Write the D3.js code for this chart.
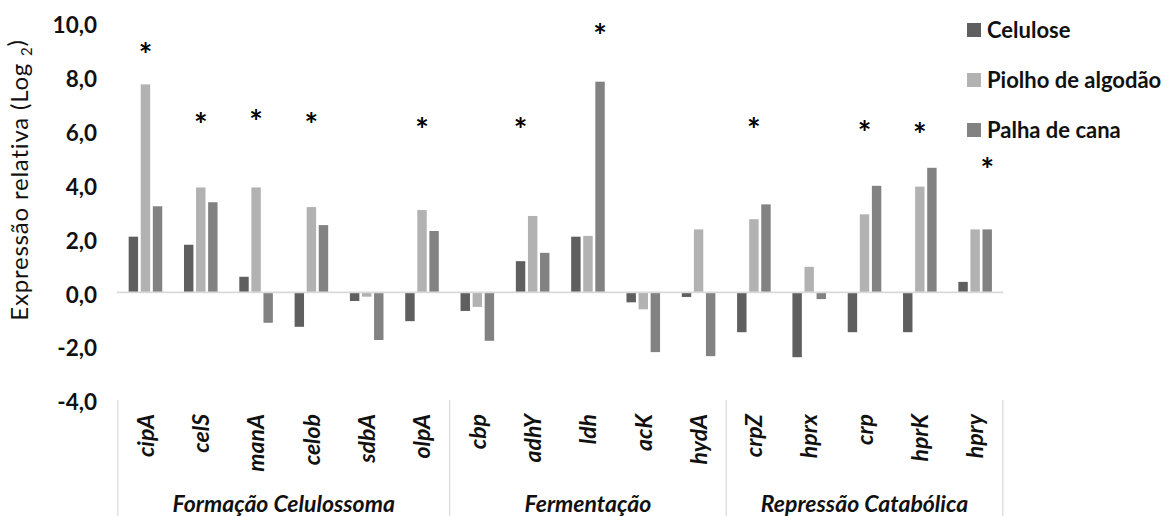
<!DOCTYPE html>
<html>
<head>
<meta charset="utf-8">
<script src="https://cdn.jsdelivr.net/npm/d3@7"></script>
<style>
  html, body { margin: 0; padding: 0; background: #ffffff; }
  svg { display: block; font-family: Lato, "Open Sans", sans-serif; }
</style>
</head>
<body>
<svg id="chart" width="1175" height="516"></svg>
<script>
// Genes, grouped by biological process
const genes = ["cipA","celS","manA","celob","sdbA","olpA","cbp","adhY","ldh","acK","hydA","crpZ","hprx","crp","hprK","hpry"];
const groupNames = ["Formação Celulossoma","Fermentação","Repressão Catabólica"];
const groupSizes = [6, 5, 5];

// Relative expression (log2) per carbon source
const seriesNames = ["Celulose","Piolho de algodão","Palha de cana"];
const celulose = [2.07, 1.77, 0.58, -1.28, -0.32, -1.07, -0.69, 1.16, 2.07, -0.37, -0.17, -1.48, -2.41, -1.48, -1.48, 0.39];
const piolho   = [7.73, 3.90, 3.90, 3.17, -0.16, 3.06, -0.54, 2.84, 2.10, -0.63, 2.34, 2.72, 0.95, 2.90, 3.93, 2.34];
const palha    = [3.20, 3.35, -1.13, 2.50, -1.77, 2.28, -1.80, 1.47, 7.83, -2.22, -2.37, 3.27, -0.25, 3.96, 4.63, 2.34];

// Significance marks: gene, series the mark sits over, and its height (log2 units)
const starGenes  = ["cipA","celS","manA","celob","olpA","adhY","ldh","crpZ","crp","hprK","hpry"];
const starSeries = [1, 1, 1, 1, 1, 0, 2, 1, 1, 1, 2];
const starLevels = [9.1, 6.5, 6.6, 6.5, 6.3, 6.3, 9.8, 6.3, 6.2, 6.1, 4.8];

const yTicks = [-4, -2, 0, 2, 4, 6, 8, 10];

const colors = ["#5f5f5f", "#b2b2b2", "#828282"];
const valuesBySeries = [celulose, piolho, palha];

const svg = d3.select("#chart");

const x = d3.scaleBand().domain(genes).range([117.8, 1002.8]).padding(0);
const xSub = d3.scaleBand().domain(d3.range(seriesNames.length))
  .range([0, x.bandwidth()]).paddingInner(0.22).paddingOuter(0.9);
const y = d3.scaleLinear().domain([-4, 10]).range([400, 23.3]);

const ptBR = d3.formatLocale({decimal: ",", thousands: ".", grouping: [3], currency: ["R$", ""], minus: "-"});
const fmt = ptBR.format(".1f");

// Y axis labels (no axis line or tick marks)
const yAxis = svg.append("g")
  .attr("transform", "translate(97,0)")
  .call(d3.axisLeft(y).tickValues(yTicks).tickFormat(fmt).tickSize(0).tickPadding(0));
yAxis.select(".domain").remove();
yAxis.selectAll("text")
  .attr("font-family", "Lato, sans-serif")
  .attr("font-weight", "bold")
  .attr("font-size", 22.5)
  .attr("fill", "#111")
  .attr("dy", "0.43em");

// Y axis title
const yTitle = svg.append("text")
  .attr("transform", "translate(19,180) rotate(-90)")
  .attr("text-anchor", "middle")
  .attr("dy", "0.36em")
  .attr("font-size", 24)
  .attr("letter-spacing", 0.8)
  .attr("fill", "#111");
yTitle.append("tspan").text("Expressão relativa (Log ");
yTitle.append("tspan").attr("font-size", 15).attr("dy", "0.3em").text("2");
yTitle.append("tspan").attr("dy", "-0.3em").text(")");

// Bars
const rows = genes.map((g, i) => ({gene: g, vals: valuesBySeries.map(s => s[i])}));
const geneG = svg.append("g").selectAll("g").data(rows).join("g")
  .attr("transform", d => `translate(${x(d.gene)},0)`);
geneG.selectAll("rect").data(d => d.vals.map((v, k) => ({v, k}))).join("rect")
  .attr("x", d => xSub(d.k))
  .attr("width", xSub.bandwidth())
  .attr("y", d => y(Math.max(0, d.v)))
  .attr("height", d => Math.abs(y(d.v) - y(0)))
  .attr("fill", d => colors[d.k]);

// Zero line
svg.append("line")
  .attr("x1", x.range()[0] - 1).attr("x2", x.range()[1] + 0.5)
  .attr("y1", y(0)).attr("y2", y(0))
  .attr("stroke", "#d9d9d9").attr("stroke-width", 1.6);

// Significance asterisks
svg.append("g").selectAll("text").data(starGenes).join("text")
  .attr("x", (g, i) => x(g) + xSub(starSeries[i]) + xSub.bandwidth() / 2)
  .attr("y", (g, i) => y(starLevels[i]))
  .attr("dy", "0.6em")
  .attr("text-anchor", "middle")
  .attr("font-size", 32)
  .attr("font-weight", "bold")
  .attr("fill", "#000")
  .text("*");

// Gene labels (rotated)
svg.append("g").selectAll("text").data(genes).join("text")
  .attr("transform", g => `translate(${x(g) + x.bandwidth() / 2},414) rotate(-90)`)
  .attr("text-anchor", "end")
  .attr("dy", "0.36em")
  .attr("font-size", 23)
  .attr("font-weight", "bold")
  .attr("font-style", "italic")
  .attr("fill", "#111")
  .text(g => g);

// Group separators and names
let start = 0;
const bounds = [];
groupSizes.forEach((n, gi) => {
  bounds.push({name: groupNames[gi], x0: x(genes[start]), x1: x(genes[start + n - 1]) + x.bandwidth()});
  start += n;
});
const sepX = [bounds[0].x0].concat(bounds.map(b => b.x1));
svg.append("g").selectAll("line").data(sepX).join("line")
  .attr("x1", d => d).attr("x2", d => d)
  .attr("y1", 400).attr("y2", 516)
  .attr("stroke", "#d9d9d9").attr("stroke-width", 1.2);
svg.append("g").selectAll("text").data(bounds).join("text")
  .attr("x", b => (b.x0 + b.x1) / 2)
  .attr("y", 512)
  .attr("text-anchor", "middle")
  .attr("font-size", 23)
  .attr("font-weight", "bold")
  .attr("font-style", "italic")
  .attr("fill", "#111")
  .text(b => b.name);

// Legend
const leg = svg.append("g").selectAll("g").data(seriesNames).join("g")
  .attr("transform", (d, i) => `translate(967,${30 + i * 50})`);
leg.append("rect").attr("x", 0).attr("y", -7).attr("width", 14).attr("height", 14)
  .attr("fill", (d, i) => colors[i]);
leg.append("text").attr("x", 20).attr("dy", "0.36em")
  .attr("font-size", 22).attr("font-weight", "bold").attr("fill", "#111")
  .text(d => d);
</script>
</body>
</html>
